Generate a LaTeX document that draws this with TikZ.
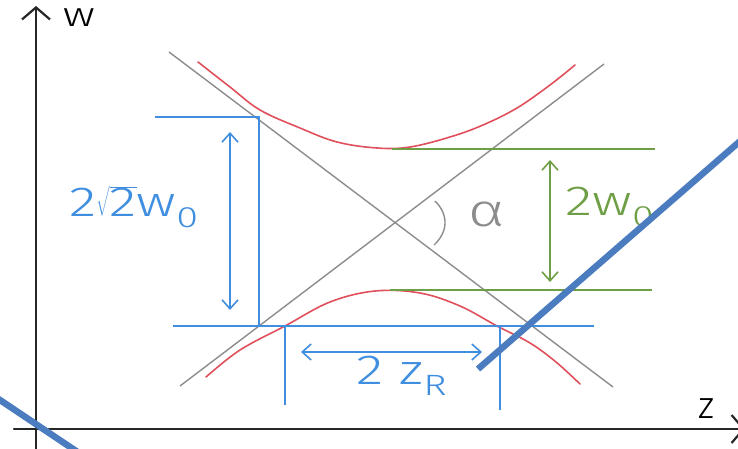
\documentclass[tikz,border=0pt]{standalone}
\usepackage{graphicx}
\usepackage{fontspec}
\setmainfont{Fira Sans}[UprightFont={* Light}]
\usetikzlibrary{arrows.meta}
\definecolor{penblue}{HTML}{3F8EE0}
\definecolor{pengreen}{HTML}{6E9E45}
\definecolor{penred}{HTML}{E0505C}
\definecolor{pengray}{HTML}{8C8C8C}
\definecolor{markblue}{HTML}{4A7CBF}
\newcommand{\wide}[1]{\scalebox{1.35}[1.0]{#1}}
\tikzset{
 axis/.style={line width=2.2pt, black!85, line cap=round},
 asym/.style={line width=1.4pt, pengray},
 beam/.style={line width=1.6pt, penred, line cap=round},
 bluel/.style={line width=1.6pt, penblue},
 greenl/.style={line width=1.6pt, pengreen},
 dbl/.style={{Straight Barb[length=9pt,width=16pt]}-{Straight Barb[length=9pt,width=16pt]}},
 lab/.style={inner sep=0pt, font=\fontsize{42}{44}\selectfont},
 marker/.style={line width=6.5pt, markblue}
}
\begin{document}
\begin{tikzpicture}[x=1pt,y=-1pt]
\useasboundingbox (0,0) rectangle (738,449);
% axes
\coordinate (ybot) at (36,449);
\coordinate (ytop) at (36,6);
\coordinate (xl) at (14,429);
\coordinate (xr) at (745,429);
\draw[axis, -{Straight Barb[length=12pt,width=28pt]}] (ybot) -- (ytop);
\draw[axis, -{Straight Barb[length=12pt,width=28pt]}] (xl) -- (xr);
\node[lab, font=\fontsize{34}{36}\selectfont] (wlab) at (79,18) {\wide{w}};
\node[lab, font=\fontsize{38}{40}\selectfont] (zlab) at (707,409) {z};
% asymptotes
\coordinate (a1s) at (169,52);
\coordinate (a1e) at (613,387);
\coordinate (a2s) at (180,386);
\coordinate (a2e) at (604,64);
\draw[asym] (a1s) -- (a1e);
\draw[asym] (a2s) -- (a2e);
% beam
\draw[beam] plot[smooth, tension=0.6] coordinates {(198,62) (230,87) (260,110) (300,128) (337,142) (377,148) (410,147) (450,137) (483,125) (517,108) (550,85) (575,65)};
\draw[beam] plot[smooth, tension=0.6] coordinates {(206,377) (240,350) (285,326) (330,302) (375,291) (420,293) (460,306) (497,326) (530,343) (556,362) (580,384)};
% blue construction
\coordinate (bt1) at (155,117);
\coordinate (bt2) at (259,117);
\coordinate (bb2) at (259,326);
\coordinate (bl1) at (173,326);
\coordinate (bl2) at (594,326);
\coordinate (v1t) at (285,326);
\coordinate (v1b) at (285,405);
\coordinate (v2t) at (500,326);
\coordinate (v2b) at (500,410);
\draw[bluel] (bt1) -- (bt2) -- (bb2);
\draw[bluel] (bl1) -- (bl2);
\draw[bluel] (v1t) -- (v1b);
\draw[bluel] (v2t) -- (v2b);
\coordinate (da1) at (230,132);
\coordinate (da2) at (230,310);
\draw[bluel, dbl] (da1) -- (da2);
\coordinate (ha1) at (301,352);
\coordinate (ha2) at (482,352);
\draw[bluel, dbl] (ha1) -- (ha2);
\node[lab, text=penblue] (l1) at (134,207) {\wide{2$\sqrt{\mbox{2}}$w\textsubscript{0}}};
\node[lab, text=penblue] (l2) at (402,376) {\wide{2\ z\textsubscript{R}}};
% green
\coordinate (g1a) at (392,149);
\coordinate (g1b) at (655,149);
\coordinate (g2a) at (390,290);
\coordinate (g2b) at (652,290);
\draw[greenl] (g1a) -- (g1b);
\draw[greenl] (g2a) -- (g2b);
\coordinate (ga1) at (550,160);
\coordinate (ga2) at (550,282);
\draw[greenl, dbl] (ga1) -- (ga2);
\node[lab, text=pengreen] (l3) at (610,207) {\wide{2w\textsubscript{0}}};
% angle
\coordinate (ar1) at (435,201);
\coordinate (ar2) at (434,245);
\draw[asym] (ar1) .. controls (449,215) and (448,232) .. (ar2);
\node[lab, text=pengray, font=\fontsize{46}{48}\selectfont] (alab) at (487,214) {\wide{α}};
% marker strokes
\coordinate (m1a) at (478,369);
\coordinate (m1b) at (746,136);
\draw[marker] (m1a) -- (m1b);
\coordinate (m2a) at (-6,396);
\coordinate (m2b) at (82,455);
\draw[marker] (m2a) -- (m2b);
\end{tikzpicture}
\end{document}
